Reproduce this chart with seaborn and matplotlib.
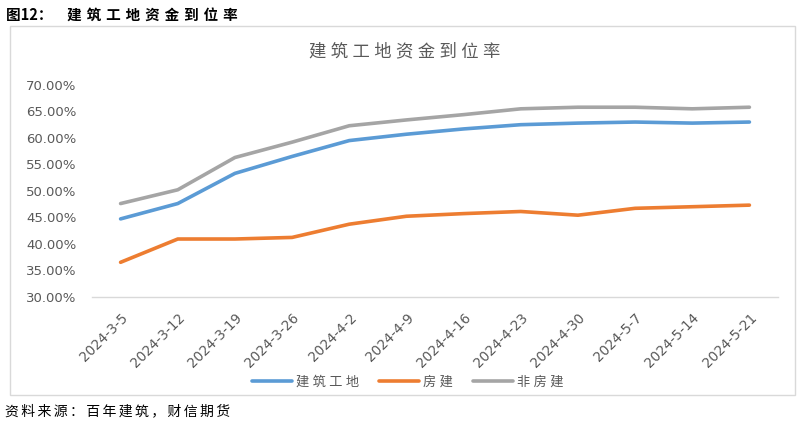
import matplotlib
matplotlib.use("Agg")
import matplotlib.pyplot as plt
import matplotlib.patches as mpatches
from matplotlib.ticker import FixedLocator, PercentFormatter
import seaborn as sns
import pandas as pd

dates = ["2024-3-5", "2024-3-12", "2024-3-19", "2024-3-26", "2024-4-2", "2024-4-9",
         "2024-4-16", "2024-4-23", "2024-4-30", "2024-5-7", "2024-5-14", "2024-5-21"]
site = [44.7, 47.6, 53.3, 56.5, 59.5, 60.7, 61.7, 62.5, 62.8, 63.0, 62.8, 63.0]
housing = [36.5, 40.9, 40.9, 41.2, 43.7, 45.2, 45.7, 46.1, 45.4, 46.7, 47.0, 47.3]
non_housing = [47.6, 50.2, 56.3, 59.2, 62.3, 63.4, 64.4, 65.5, 65.8, 65.8, 65.5, 65.8]
series_names = ["建筑工地", "房建", "非房建"]
colors = ["#5B9BD5", "#ED7D31", "#A5A5A5"]
fig_title = "图12：建筑工地资金到位率"
chart_title = "建筑工地资金到位率"
source = "资料来源：百年建筑，财信期货"

rows = []
for name, vals in zip(series_names, [site, housing, non_housing]):
    for i, (d, v) in enumerate(zip(dates, vals)):
        rows.append({"idx": i, "date": d, "series": name, "value": v})
df = pd.DataFrame(rows)

sns.set_theme(style="white")
plt.rcParams["font.family"] = ["Noto Sans CJK SC", "DejaVu Sans"]


def spaced(s, sp="\u2005"):
    return sp.join(s)


fig = plt.figure(figsize=(8.04, 4.24), dpi=100)
ax = fig.add_axes([92 / 804, 1 - 296.7 / 424, (778 - 92) / 804, (296.7 - 85) / 424])

sns.lineplot(data=df, x="idx", y="value", hue="series", hue_order=series_names,
             palette=colors, linewidth=2.6, ax=ax, legend=False, sort=False)
for ln in ax.lines:
    ln.set_solid_capstyle("round")
    ln.set_solid_joinstyle("round")

ax.set_xlim(-0.5, len(dates) - 0.5)
ax.set_ylim(30, 70)
ax.set_yticks([30, 35, 40, 45, 50, 55, 60, 65, 70])
ax.yaxis.set_major_formatter(PercentFormatter(decimals=2))
ax.set_xticks(range(len(dates)))
ax.set_xticklabels(dates, rotation=45, ha="right", va="top", rotation_mode="anchor",
                   fontsize=9.8, color="#595959", family="DejaVu Sans")
ax.xaxis.set_minor_locator(FixedLocator([i - 0.5 for i in range(len(dates) + 1)]))
ax.tick_params(axis="x", which="major", length=0, pad=10)
ax.tick_params(axis="x", which="minor", length=5, width=1, color="#D9D9D9", direction="out")
ax.tick_params(axis="y", length=0, pad=11, labelsize=9.5, labelcolor="#595959")
for lbl in ax.get_yticklabels():
    lbl.set_family("DejaVu Sans")
ax.set_xlabel("")
ax.set_ylabel("")
for s in ["top", "right", "left"]:
    ax.spines[s].set_visible(False)
ax.spines["bottom"].set_color("#D9D9D9")
ax.spines["bottom"].set_linewidth(1)
ax.grid(False)

# outer frame
frame = mpatches.Rectangle((10 / 804, 1 - 395 / 424), (795 - 10) / 804, (395 - 26) / 424,
                           transform=fig.transFigure, fill=False, edgecolor="#D9D9D9",
                           linewidth=1)
fig.patches.append(frame)

head, tail = fig_title.split("：", 1)
fig.text(6 / 804, 1 - 15 / 424, head + "：\u2004\u2004\u2004" + spaced(tail, "\u2004"),
         fontsize=10.5, fontweight="bold", color="#000000", va="center", ha="left")
fig.text(405 / 804, 1 - 51 / 424, spaced(chart_title), fontsize=12.5, color="#595959",
         va="center", ha="center")
fig.text(5 / 804, 1 - 411 / 424, spaced(source, "\u2006"), fontsize=10,
         color="#000000", va="center", ha="left", style="italic")

handles = [plt.Line2D([], [], color=c, linewidth=2.6, solid_capstyle="round") for c in colors]
fig.legend(handles, [spaced(n) for n in series_names], loc="center",
           bbox_to_anchor=(408 / 804, 1 - 382 / 424),
           ncol=3, frameon=False, fontsize=9.5, labelcolor="#595959", handlelength=3.0,
           handletextpad=0.35, columnspacing=1.5)

fig.savefig("out.png", dpi=100)
